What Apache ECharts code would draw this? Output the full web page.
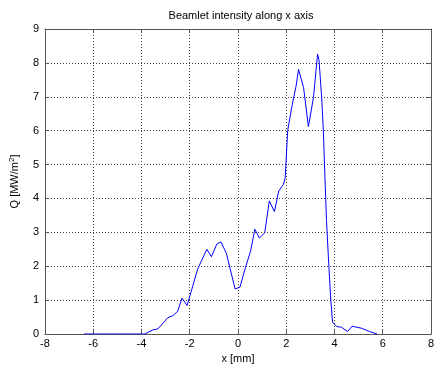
<!DOCTYPE html>
<html>
<head>
<meta charset="utf-8">
<script src="https://cdn.jsdelivr.net/npm/echarts@6/dist/echarts.min.js"></script>
<style>
  html, body { margin: 0; padding: 0; background: #fff; }
  #chart { width: 437px; height: 370px; }
</style>
</head>
<body>
<div id="chart"></div>
<script>
// positions along x [mm] and intensity Q [MW/m^2]
const xPos = [-6.4, -4.0, -3.87, -3.53, -3.32, -2.91, -2.7, -2.5, -2.32, -2.11, -1.95, -1.67,
  -1.29, -1.1, -0.88, -0.71, -0.48, -0.12, 0.08, 0.31, 0.52, 0.7, 0.89, 1.11, 1.3, 1.51,
  1.69, 1.89, 1.96, 2.06, 2.23, 2.41, 2.51, 2.72, 2.92, 3.13, 3.3, 3.36, 3.47, 3.54, 3.6,
  3.67, 3.77, 3.85, 3.92, 4.09, 4.29, 4.54, 4.73, 5.12, 5.46, 5.77]
const qVal = [0, 0, 0, 0.12, 0.15, 0.48, 0.54, 0.67, 1.06, 0.84, 1.23, 1.92,
  2.5, 2.28, 2.65, 2.72, 2.38, 1.33, 1.38, 1.96, 2.44, 3.09, 2.83, 2.99, 3.93, 3.61,
  4.22, 4.42, 4.62, 6.0, 6.69, 7.32, 7.81, 7.27, 6.12, 6.98, 8.26, 8.08, 6.98, 6.0, 4.73,
  3.35, 1.97, 0.99, 0.35, 0.22, 0.2, 0.07, 0.23, 0.17, 0.07, 0]

const xTicks = [-8, -6, -4, -2, 0, 2, 4, 6, 8]
const yTicks = [0, 1, 2, 3, 4, 5, 6, 7, 8, 9]

const chart = echarts.init(document.getElementById('chart'))

const font = 'Liberation Sans, Arial, sans-serif'
const boxColor = '#555'
const gridLine = { show: true, lineStyle: { color: '#444', type: [1, 2], width: 1 } }

chart.setOption({
  backgroundColor: '#fff',
  animation: false,
  title: {
    text: 'Beamlet intensity along x axis',
    left: 236,
    top: 5,
    textAlign: 'center',
    textStyle: { fontFamily: font, fontSize: 11, fontWeight: 'normal', color: '#000' }
  },
  grid: { left: 42, right: 6, top: 29, bottom: 36 },
  xAxis: [{
    type: 'value',
    min: xTicks[0],
    max: xTicks[xTicks.length - 1],
    interval: 2,
    name: 'x [mm]',
    nameLocation: 'middle',
    nameGap: 19,
    nameTextStyle: { fontFamily: font, fontSize: 11, color: '#000' },
    axisLine: { show: true, onZero: false, lineStyle: { color: boxColor } },
    axisTick: { show: true, inside: true, length: 4, lineStyle: { color: boxColor } },
    axisLabel: { fontFamily: font, fontSize: 11, color: '#000', margin: 4 },
    splitLine: gridLine
  }, {
    type: 'value',
    position: 'top',
    min: xTicks[0],
    max: xTicks[xTicks.length - 1],
    interval: 2,
    axisLine: { show: true, onZero: false, lineStyle: { color: boxColor } },
    axisTick: { show: true, inside: true, length: 4, lineStyle: { color: boxColor } },
    axisLabel: { show: false },
    splitLine: { show: false }
  }],
  yAxis: [{
    type: 'value',
    min: yTicks[0],
    max: yTicks[yTicks.length - 1],
    interval: 1,
    name: '{n|Q [MW/m}{s|2}{n|]}',
    nameLocation: 'middle',
    nameGap: 23,
    nameTextStyle: {
      rich: {
        n: { fontFamily: font, fontSize: 11, color: '#000' },
        s: { fontFamily: font, fontSize: 8, color: '#000', verticalAlign: 'top', padding: [0, 0, 6, 0] }
      }
    },
    axisLine: { show: true, onZero: false, lineStyle: { color: boxColor } },
    axisTick: { show: true, inside: true, length: 4, lineStyle: { color: boxColor } },
    axisLabel: { fontFamily: font, fontSize: 11, color: '#000', margin: 6 },
    splitLine: gridLine
  }, {
    type: 'value',
    position: 'right',
    min: yTicks[0],
    max: yTicks[yTicks.length - 1],
    interval: 1,
    axisLine: { show: true, onZero: false, lineStyle: { color: boxColor } },
    axisTick: { show: true, inside: true, length: 4, lineStyle: { color: boxColor } },
    axisLabel: { show: false },
    splitLine: { show: false }
  }],
  series: [{
    type: 'line',
    data: xPos.map((x, i) => [x, qVal[i]]),
    showSymbol: false,
    lineStyle: { color: '#0000ff', width: 1 },
    itemStyle: { color: '#0000ff' }
  }]
})
</script>
</body>
</html>
